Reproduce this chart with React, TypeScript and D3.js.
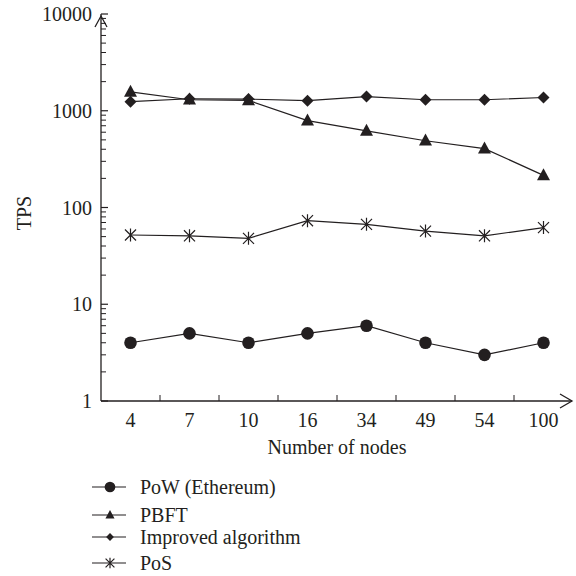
import { useEffect, useRef } from "react";
import * as d3 from "d3";

const nodes = ["4", "7", "10", "16", "34", "49", "54", "100"];
const powValues = [4, 5, 4, 5, 6, 4, 3, 4];
const pbftValues = [1570, 1300, 1280, 790, 620, 490, 406, 215];
const improvedValues = [1240, 1330, 1320, 1270, 1400, 1300, 1300, 1370];
const posValues = [52, 51, 48, 73, 67, 57, 51, 62];
const yTicks = [1, 10, 100, 1000, 10000];

const seriesNames = ["PoW (Ethereum)", "PBFT", "Improved algorithm", "PoS"];
const seriesShapes = ["circle", "triangle", "diamond", "star"];

const ink = "#231f20";
const font = "'Liberation Serif', 'DejaVu Serif', serif";
const fontSize = 20;

function drawMarker(g: any, shape: string, x: number, y: number, k: number) {
  if (shape === "circle") {
    g.append("circle").attr("cx", x).attr("cy", y).attr("r", 6.3 * k).attr("fill", ink);
  } else if (shape === "triangle") {
    const s = 6.5 * k;
    g.append("path")
      .attr("d", `M${x},${y - s * 1.1}L${x + s},${y + s * 0.75}L${x - s},${y + s * 0.75}Z`)
      .attr("fill", ink);
  } else if (shape === "diamond") {
    const s = 6 * k;
    g.append("path")
      .attr("d", `M${x},${y - s}L${x + s},${y}L${x},${y + s}L${x - s},${y}Z`)
      .attr("fill", ink);
  } else {
    const s = 6.5 * k;
    const d = s * 0.85;
    g.append("path")
      .attr("d", `M${x},${y - s}L${x},${y + s}M${x - d},${y - d}L${x + d},${y + d}M${x - d},${y + d}L${x + d},${y - d}`)
      .attr("stroke", ink)
      .attr("stroke-width", 1.2)
      .attr("fill", "none");
  }
}

function Chart() {
  const ref = useRef<SVGSVGElement>(null);

  useEffect(() => {
    const svg = d3.select(ref.current);
    svg.selectAll("*").remove();

    const x = d3.scaleBand().domain(nodes).range([101, 573]);
    const y = d3.scaleLog().domain([1, 10000]).range([401, 14]);
    const cx = (d: string) => (x(d) as number) + x.bandwidth() / 2;

    // axes with open arrow heads
    svg.append("line").attr("x1", 101).attr("x2", 572).attr("y1", 401).attr("y2", 401)
      .attr("stroke", ink).attr("stroke-width", 1.3);
    svg.append("path").attr("d", "M560,394L572,401L560,408").attr("fill", "none")
      .attr("stroke", ink).attr("stroke-width", 1.3);
    svg.append("line").attr("x1", 101).attr("x2", 101).attr("y1", 401).attr("y2", 14)
      .attr("stroke", ink).attr("stroke-width", 1.3);
    svg.append("path").attr("d", "M95,27L101,16L107,27").attr("fill", "none")
      .attr("stroke", ink).attr("stroke-width", 1.3);

    // y ticks (major + minor)
    const minor: number[] = [];
    for (let e = 0; e < 4; e++) for (let m = 2; m <= 9; m++) minor.push(m * Math.pow(10, e));
    svg.append("g").selectAll("line").data(minor).join("line")
      .attr("x1", 101).attr("x2", 106).attr("y1", (d) => y(d)).attr("y2", (d) => y(d))
      .attr("stroke", ink).attr("stroke-width", 1);
    svg.append("g").selectAll("line").data(yTicks).join("line")
      .attr("x1", 101).attr("x2", 108).attr("y1", (d) => y(d)).attr("y2", (d) => y(d))
      .attr("stroke", ink).attr("stroke-width", 1.2);
    svg.append("g").selectAll("text").data(yTicks).join("text")
      .attr("x", 92).attr("y", (d) => y(d)).attr("dy", "0.35em")
      .attr("text-anchor", "end").attr("font-family", font).attr("font-size", fontSize)
      .attr("fill", ink).text((d) => String(d));

    // x ticks
    svg.append("g").selectAll("line").data(nodes.slice(1)).join("line")
      .attr("x1", (d) => x(d) as number).attr("x2", (d) => x(d) as number)
      .attr("y1", 401).attr("y2", 395).attr("stroke", ink).attr("stroke-width", 1);
    svg.append("g").selectAll("text").data(nodes).join("text")
      .attr("x", cx).attr("y", 427).attr("text-anchor", "middle")
      .attr("font-family", font).attr("font-size", fontSize).attr("fill", ink).text((d) => d);

    svg.append("text").attr("x", 337).attr("y", 454).attr("text-anchor", "middle")
      .attr("font-family", font).attr("font-size", fontSize).attr("fill", ink).text("Number of nodes");
    svg.append("text").attr("transform", "translate(31,213) rotate(-90)").attr("text-anchor", "middle")
      .attr("font-family", font).attr("font-size", fontSize).attr("fill", ink).text("TPS");

    const allSeries = [powValues, pbftValues, improvedValues, posValues];
    const line = d3.line<number>().x((_, i) => cx(nodes[i])).y((d) => y(d));

    allSeries.forEach((vals, si) => {
      const g = svg.append("g");
      g.append("path").attr("d", line(vals)).attr("fill", "none")
        .attr("stroke", ink).attr("stroke-width", 1.2);
      vals.forEach((v, i) => drawMarker(g, seriesShapes[si], cx(nodes[i]), y(v), 1));
    });

    // legend
    const legendY = [487, 515, 537, 563];
    const legendScale = [0.85, 0.7, 0.65, 0.8];
    seriesNames.forEach((name, i) => {
      const g = svg.append("g");
      g.append("line").attr("x1", 92).attr("x2", 126).attr("y1", legendY[i]).attr("y2", legendY[i])
        .attr("stroke", ink).attr("stroke-width", 1.2);
      drawMarker(g, seriesShapes[i], 110, legendY[i], legendScale[i]);
      g.append("text").attr("x", 140).attr("y", legendY[i]).attr("dy", "0.35em")
        .attr("font-family", font).attr("font-size", fontSize).attr("fill", ink).text(name);
    });
  }, []);

  return <svg ref={ref} width={576} height={576} style={{ display: "block", background: "#fff" }} />;
}

export default function App() {
  return (
    <div style={{ position: "absolute", left: 0, top: 0 }}>
      <Chart />
    </div>
  );
}
